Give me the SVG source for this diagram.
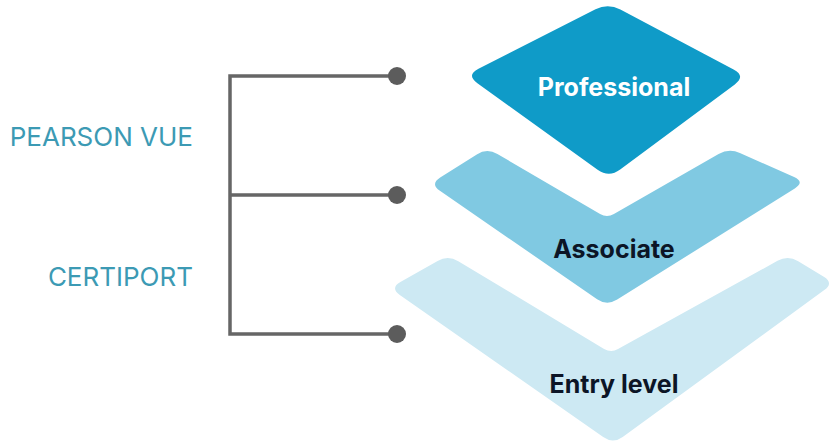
<svg xmlns="http://www.w3.org/2000/svg" width="832" height="441" viewBox="0 0 832 441">
<style>
.lbl{font-family:Inter,"Noto Sans","Liberation Sans",sans-serif;font-size:25px;font-weight:700;text-anchor:middle}
.side{font-family:Inter,"Noto Sans","Liberation Sans",sans-serif;font-size:26px;font-weight:400;fill:#3c9ab4;text-anchor:end}
.conn{stroke:#666;stroke-width:3.5;fill:none}
.dot{fill:#5c5c5c}
</style>
<rect width="832" height="441" fill="#ffffff"/>
<g id="entry">
<path fill="#cde9f3" d="M 400.4,282.1 L 437.6,260.9 Q 448,255 458.3,261.2 L 604.1,348.9 Q 611,353 618.0,349.1 L 777.5,260.8 Q 788,255 798.2,261.2 L 823.8,276.8 Q 834,283 824.3,290.1 L 622.7,436.9 Q 613,444 603.2,437.1 L 399.8,294.9 Q 390,288 400.4,282.1 Z"/>
<text class="lbl" x="614" y="393" fill="#0c1526">Entry level</text>
</g>
<g id="associate">
<path fill="#80c9e2" d="M 440.2,177.6 L 476.8,154.4 Q 487,148 497.4,154.0 L 600.1,214.0 Q 607,218 613.9,214.0 L 718.6,154.0 Q 729,148 739.9,152.9 L 794.1,177.1 Q 805,182 794.8,188.4 L 617.2,299.6 Q 607,306 597.1,299.2 L 439.9,190.8 Q 430,184 440.2,177.6 Z"/>
<text class="lbl" x="614" y="258" fill="#0c1526">Associate</text>
</g>
<g id="professional">
<path fill="#0f9bc8" d="M 595.5,9.3 Q 608,3 620.4,9.6 L 733.6,69.4 Q 746,76 734.8,84.4 L 620.2,169.6 Q 609,178 597.6,169.8 L 477.4,83.2 Q 466,75 478.5,68.7 Z"/>
<text class="lbl" x="614" y="96" fill="#ffffff">Professional</text>
</g>
<g id="pearson-vue"><text class="side" x="193" y="146">PEARSON VUE</text></g>
<g id="certiport"><text class="side" x="193" y="286">CERTIPORT</text></g>
<g id="connectors">
<path class="conn" d="M 397,76 H 230 V 334 H 397 M 230,195 H 397"/>
<circle class="dot" cx="397" cy="76" r="9"/>
<circle class="dot" cx="397" cy="195" r="9"/>
<circle class="dot" cx="397" cy="334" r="9"/>
</g>
</svg>
